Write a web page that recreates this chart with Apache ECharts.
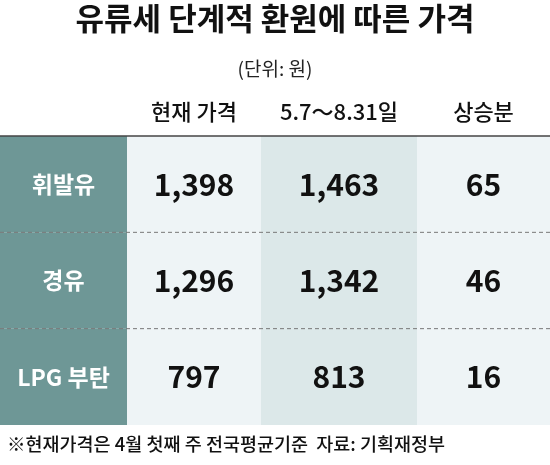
<!DOCTYPE html><html><head><meta charset="utf-8"><script src="https://cdn.jsdelivr.net/npm/echarts@6/dist/echarts.min.js"></script>
<style>body{margin:0}#c{width:550px;height:465px}</style></head><body><div id="c"></div><script>
const rows = ['휘발유','경유','LPG 부탄'];
const headers = ['현재 가격','5.7～8.31일','상승분'];
const current = ['1,398','1,296','797'];
const period = ['1,463','1,342','813'];
const rise = ['65','46','16'];
const edges = [0,127,261,417,550];
const fills = ['#6e9796','#eef4f6','#dce8e9','#eef4f6'];
const F='"Noto Sans CJK KR", sans-serif';
const N='"Liberation Sans Narrow", "Noto Sans CJK KR", sans-serif';
const data = rows.map((r,i)=>[i,i]);
const chart = echarts.init(document.getElementById('c'));
chart.setOption({
 animation:false,
 title:[{text:'유류세 단계적 환원에 따른 가격',left:'center',top:-2,textStyle:{fontFamily:F,fontSize:31,fontWeight:'bold',color:'#111'}},
  {text:'(단위: 원)',left:'center',top:54,textStyle:{fontFamily:F,fontSize:19,fontWeight:'normal',color:'#222'}},
  {text:'※현재가격은 4월 첫째 주 전국평균기준  자료: 기획재정부',left:2,top:430,textStyle:{fontFamily:F,fontSize:18.5,fontWeight:500,color:'#111'}}],
 grid:{left:0,right:0,top:136,bottom:40},
 xAxis:{type:'value',min:0,max:550,show:false},
 yAxis:{type:'category',data:rows,inverse:true,show:false},
 series:[{type:'custom',data:data,encode:{y:0},renderItem:(p,api)=>{
   const i=api.value(1);
   const c=api.coord([0,i]);const s=api.size([0,1]);const h=s[1];const top=c[1]-h/2;
   const vals=[rows[i],current[i],period[i],rise[i]];
   const ch=[];
   for(let k=0;k<4;k++){
     ch.push({type:'rect',shape:{x:edges[k],y:top,width:edges[k+1]-edges[k],height:h},style:{fill:fills[k]}});
     ch.push({type:'text',style:{text:vals[k],x:(edges[k]+edges[k+1])/2,y:c[1],align:'center',verticalAlign:'middle',
       font:(k===0?'bold 23px '+F:'bold 30px '+N),fill:k===0?'#fff':'#111'}});
   }
   if(i>0) ch.push({type:'line',shape:{x1:0,y1:top,x2:550,y2:top},style:{stroke:'#777',lineDash:[4,3],lineWidth:1}});
   else {
     ch.push({type:'line',shape:{x1:0,y1:top,x2:550,y2:top},style:{stroke:'#444',lineWidth:1.5}});
     for(let k=1;k<4;k++) ch.push({type:'text',style:{text:headers[k-1],x:(edges[k]+edges[k+1])/2,y:top-24,align:'center',verticalAlign:'middle',font:'500 22px '+F,fill:'#111'}});
   }
   return {type:'group',children:ch};
 }}]
});
</script></body></html>
